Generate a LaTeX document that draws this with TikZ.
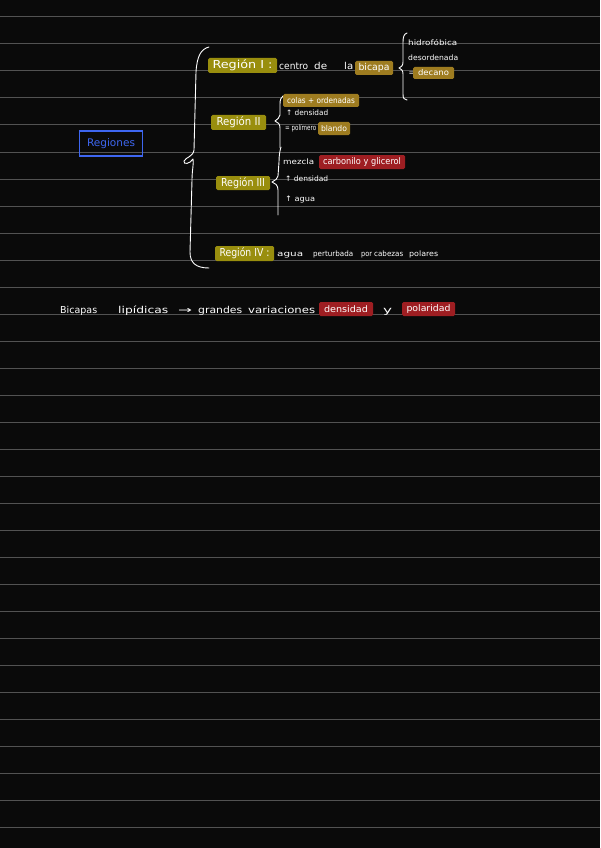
\documentclass[tikz,border=0pt]{standalone}
\usepackage{fontspec}
\setmainfont{DejaVu Sans}
\usepackage{graphicx}
\newcommand\hwtxt[2]{\resizebox{#1pt}{\height}{#2}}
\definecolor{bgc}{RGB}{10,10,10}
\definecolor{rulec}{RGB}{82,82,82}
\definecolor{regc}{RGB}{153,142,14}
\definecolor{goldc}{RGB}{158,124,32}
\definecolor{redc}{RGB}{158,30,34}
\definecolor{bluec}{RGB}{62,102,240}
\tikzset{
  hl/.style={inner sep=0pt, rounded corners=1.5pt, text=white, font=\fontsize{9}{10}\selectfont},
  regbox/.style={hl, fill=regc, font=\fontsize{11}{12}\selectfont},
  goldbox/.style={hl, fill=goldc, font=\fontsize{8}{9}\selectfont},
  redbox/.style={hl, fill=redc, font=\fontsize{9}{10}\selectfont},
  txt/.style={text=white, inner sep=0pt, anchor=base west, font=\fontsize{9.5}{10}\selectfont},
  small/.style={txt, font=\fontsize{7.5}{8}\selectfont},
  brace/.style={draw=white, line width=0.9pt, line cap=round, line join=round},
  rule/.style={draw=rulec, line width=1pt}
}
\begin{document}
\begin{tikzpicture}[x=1pt,y=-1pt]
\fill[bgc] (0,0) rectangle (600,848);
\useasboundingbox (0,0) rectangle (600,848);
\foreach \k in {0,...,30} \draw[rule] (0,17+27*\k) -- (600,17+27*\k);

% Regiones
\node[draw=bluec, line width=1.3pt, inner sep=0pt, minimum width=63pt, minimum height=25pt,
  text=bluec, font=\fontsize{10.5}{11}\selectfont] (reg) at (111,143.5) {\hwtxt{48}{Regiones}};

% Big brace
\coordinate (bt) at (209,47);
\coordinate (bb) at (209,268);
\draw[brace] (bt) .. controls (201,49) and (197,56) .. (196,72) -- (194,150)
  .. controls (193,157) and (186,157) .. (184,161) .. controls (183,165) and (190,164) .. (193,159)
  .. controls (194,163) and (192,170) .. (192,180) -- (190,252) .. controls (190,263) and (196,268) .. (bb);

% Region I
\node[regbox, minimum width=69pt, minimum height=15pt] (r1) at (242.5,65.5) {\hwtxt{60}{Región I :}};
\node[txt] (c1) at (279,70) {\hwtxt{29}{centro}};
\node[txt] (c2) at (314,70) {\hwtxt{13}{de}};
\node[txt] (c3) at (344,70) {\hwtxt{9}{la}};
\node[goldbox, font=\fontsize{9.5}{10}\selectfont, minimum width=38pt, minimum height=14pt] (bic) at (374,68) {\hwtxt{31}{bicapa}};
\coordinate (s1t) at (407,33);
\coordinate (s1b) at (407,100);
\draw[brace] (s1t) .. controls (404,34) and (403,37) .. (403,42) -- (403,62) .. controls (403,66) and (401,67) .. (399,68)
  .. controls (401,69) and (403,70) .. (403,74) -- (403,94) .. controls (403,98) and (404,100) .. (s1b);
\node[small] (h1) at (408,46) {\hwtxt{49}{hidrofóbica}};
\node[small] (h2) at (408,60.5) {\hwtxt{50}{desordenada}};
\node[small] (h3) at (408.5,76) {=};
\node[goldbox, minimum width=41pt, minimum height=12pt] (dec) at (433.5,73) {\hwtxt{31}{decano}};

% Region II
\node[regbox, minimum width=55pt, minimum height=15pt] (r2) at (238.5,122.5) {\hwtxt{44}{Región II}};
\coordinate (s2t) at (283,96);
\coordinate (s2b) at (280,148);
\draw[brace] (s2t) .. controls (281,97) and (280,100) .. (280,104) -- (280,115) .. controls (280,118) and (277,119) .. (275,121)
  .. controls (278,122) and (280,124) .. (280,128) -- (280,148);
\node[goldbox, minimum width=76pt, minimum height=13pt] (col) at (321,100.5) {\hwtxt{68}{colas + ordenadas}};
\node[small] (d2) at (286,116) {\hwtxt{42}{↑ densidad}};
\node[small] (p2) at (285,131) {\hwtxt{31}{= polímero}};
\node[goldbox, minimum width=32pt, minimum height=13pt] (bla) at (334,128.5) {\hwtxt{26}{blando}};

% Region III
\node[regbox, minimum width=54pt, minimum height=14pt] (r3) at (243,183) {\hwtxt{44}{Región III}};
\coordinate (s3t) at (281,147);
\coordinate (s3b) at (278,215);
\draw[brace] (s3t) .. controls (280,150) and (279,155) .. (279,162) -- (278,176) .. controls (278,179) and (275,180) .. (272,182)
  .. controls (275,183) and (278,185) .. (278,190) -- (s3b);
\node[small] (mez) at (283,164) {\hwtxt{31}{mezcla}};
\node[redbox, minimum width=86pt, minimum height=14pt] (car) at (362,162) {\hwtxt{78}{carbonilo y glicerol}};
\node[small] (d3) at (285,181) {\hwtxt{43}{↑ densidad}};
\node[small] (a3) at (285,201) {\hwtxt{30}{↑ agua}};

% Region IV
\node[regbox, minimum width=59pt, minimum height=15pt] (r4) at (244.5,253.5) {\hwtxt{50}{Región IV :}};
\node[small] (w1) at (277,256) {\hwtxt{26}{agua}};
\node[small] (w2) at (313,256) {\hwtxt{40}{perturbada}};
\node[small] (w3) at (361,256) {\hwtxt{11}{por}};
\node[small] (w4) at (374,256) {\hwtxt{29}{cabezas}};
\node[small] (w5) at (409,256) {\hwtxt{29}{polares}};

% Bottom line
\node[txt] (b1) at (60,313) {\hwtxt{37}{Bicapas}};
\node[txt] (b2) at (118,313) {\hwtxt{50}{lipídicas}};
\node[txt] (b3) at (178,313) {\hwtxt{14}{→}};
\node[txt] (b4) at (198,313) {\hwtxt{44}{grandes}};
\node[txt] (b5) at (248,313) {\hwtxt{67}{variaciones}};
\node[redbox, minimum width=54pt, minimum height=14pt] (b6) at (346,309) {\hwtxt{44}{densidad}};
\node[txt] (b7) at (383,313) {\hwtxt{9}{y}};
\node[redbox, minimum width=53pt, minimum height=14pt] (b8) at (428.5,309) {\hwtxt{44}{polaridad}};
\end{tikzpicture}
\end{document}
